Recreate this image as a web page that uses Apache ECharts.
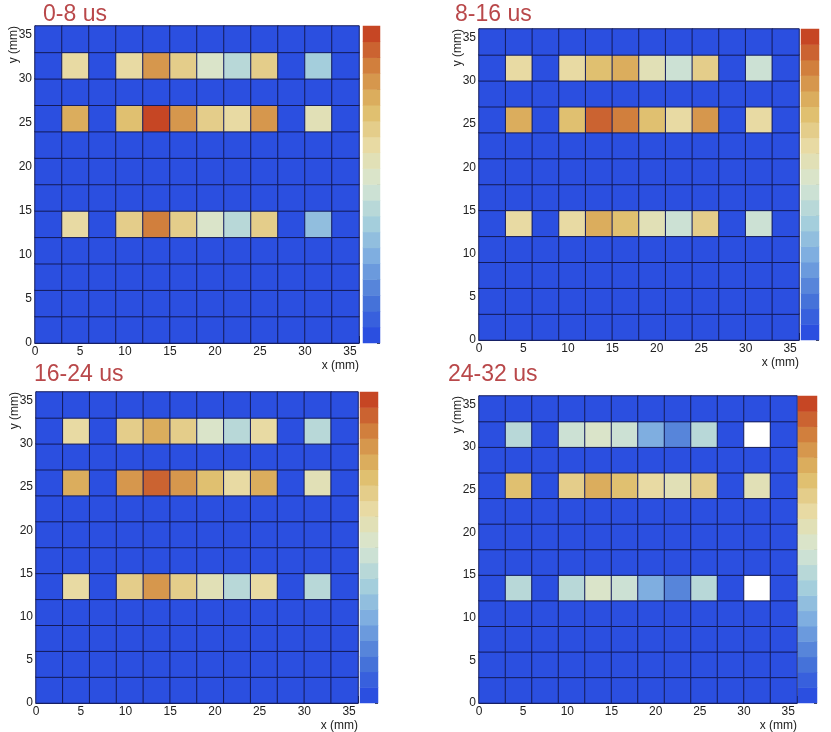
<!DOCTYPE html>
<html><head><meta charset="utf-8">
<script src="https://cdn.jsdelivr.net/npm/echarts@6/dist/echarts.min.js"></script>
<style>html,body{margin:0;padding:0;background:#fff}#c{width:831px;height:732px}</style>
</head><body><div id="c"></div>
<script>
// ---- data ----
const binCenters = ['1.5','4.5','7.5','10.5','13.5','16.5','19.5','22.5','25.5','28.5','31.5','34.5'];
const panelTitles = ['0-8 us', '8-16 us', '16-24 us', '24-32 us'];
const litRows = ['13.5', '25.5', '31.5'];          // y bin centres (mm) of lit rows
// colour level per x bin (0..20 scale, -1 = below scale -> white)
const p1Row13 = [0, 12.5, 0, 13.0, 17.0, 13.5, 10.5, 8.5, 13.5, 0, 6.5, 0];
const p1Row25 = [0, 15.5, 0, 14.5, 19.5, 16.5, 13.5, 12.5, 16.5, 0, 11.5, 0];
const p1Row31 = [0, 12.5, 0, 12.5, 16.5, 13.5, 10.5, 8.5, 13.5, 0, 7.5, 0];
const p2Row13 = [0, 12.5, 0, 12.5, 15.0, 14.0, 11.0, 9.0, 13.5, 0, 9.0, 0];
const p2Row25 = [0, 15.5, 0, 14.5, 18.5, 17.5, 14.0, 12.5, 16.0, 0, 12.5, 0];
const p2Row31 = [0, 12.5, 0, 12.0, 14.5, 15.0, 11.5, 9.5, 13.0, 0, 9.0, 0];
const p3Row13 = [0, 12.5, 0, 13.0, 16.0, 13.5, 11.0, 8.5, 12.5, 0, 8.0, 0];
const p3Row25 = [0, 15.5, 0, 16.0, 18.5, 16.0, 14.0, 12.5, 15.0, 0, 11.5, 0];
const p3Row31 = [0, 12.5, 0, 13.0, 15.0, 13.5, 10.5, 8.5, 12.5, 0, 8.0, 0];
const p4Row13 = [0, 8.0, 0, 8.0, 10.5, 9.0, 5.5, 3.5, 8.0, 0, -1, 0];
const p4Row25 = [0, 14.0, 0, 13.0, 15.0, 14.0, 12.5, 11.5, 13.5, 0, 11.0, 0];
const p4Row31 = [0, 8.0, 0, 9.0, 10.5, 9.0, 5.0, 3.0, 8.0, 0, -1, 0];
const panelRows = [
  [p1Row13, p1Row25, p1Row31],
  [p2Row13, p2Row25, p2Row31],
  [p3Row13, p3Row25, p3Row31],
  [p4Row13, p4Row25, p4Row31]
];
const nLevels = 20;

// ---- palette (ROOT light-temperature like) ----
const anchors = ['#2b4fe0','#4a78d8','#7aaae0','#a6d0dc','#d6e6d2','#e8dca6','#dfbd6a','#d38a42','#c64624'];
function hex(c){return [1,3,5].map(i=>parseInt(c.substr(i,2),16));}
function bandColor(t){
  const p = t*(anchors.length-1), i = Math.min(Math.floor(p), anchors.length-2), f = p-i;
  const a = hex(anchors[i]), b = hex(anchors[i+1]);
  return 'rgb(' + a.map((v,k)=>Math.round(v+(b[k]-v)*f)).join(',') + ')';
}
const pieces = [];
for (let i = 0; i < nLevels; i++) {
  pieces.push(i === nLevels-1 ? {gte:i, lte:i+1, color:bandColor(i/(nLevels-1))}
                              : {gte:i, lt:i+1, color:bandColor(i/(nLevels-1))});
}

// ---- layout ----
const layout = [
  {l:35,  t:26,  w:324, h:317, bl:363, bw:17, tl:43,  tt:3},
  {l:479, t:29,  w:320, h:311, bl:801, bw:18, tl:455, tt:3},
  {l:36,  t:392, w:322, h:311, bl:360, bw:18, tl:34,  tt:363},
  {l:479, t:396, w:318, h:307, bl:798, bw:19, tl:448, tt:363}
];

const grids = [], xAxes = [], yAxes = [], series = [], titles = [];
const axisCol = '#222';
layout.forEach((L, p) => {
  const gMain = grids.length;
  grids.push({left:L.l, top:L.t, width:L.w, height:L.h, outerBoundsMode:'none', containLabel:false});
  grids.push({left:L.bl, top:L.t, width:L.bw, height:L.h, outerBoundsMode:'none', containLabel:false});
  const gBar = gMain + 1;
  titles.push({text: panelTitles[p], left:L.tl, top:L.tt, padding:0,
    textStyle:{color:'#b9484a', fontSize:23, fontWeight:'normal', fontFamily:'Liberation Sans'}});

  const xCat = xAxes.length;
  xAxes.push({type:'category', gridIndex:gMain, data:binCenters, show:false, position:'top'});
  xAxes.push({type:'value', gridIndex:gMain, min:0, max:36, interval:5, position:'bottom',
    name:'x (mm)', nameLocation:'end', nameGap:0, nameMoveOverlap:false,
    nameTextStyle:{align:'right', verticalAlign:'top', padding:[17,0,0,0], fontSize:12, color:axisCol, fontFamily:'Liberation Sans'},
    axisLine:{show:true, lineStyle:{color:'#1a2260', width:1}},
    axisTick:{show:true, inside:true, length:7, lineStyle:{color:axisCol}},
    minorTick:{show:true, splitNumber:5, length:3, lineStyle:{color:axisCol}},
    axisLabel:{fontSize:12, color:axisCol, margin:3, showMaxLabel:false, fontFamily:'Liberation Sans'},
    splitLine:{show:false}});
  const xBar = xAxes.length;
  xAxes.push({type:'category', gridIndex:gBar, data:['z'], show:false});

  const yCat = yAxes.length;
  yAxes.push({type:'category', gridIndex:gMain, data:binCenters, show:false, position:'right'});
  yAxes.push({type:'value', gridIndex:gMain, min:0, max:36, interval:5, position:'left',
    name:'y (mm)', nameLocation:'end', nameGap:0, nameRotate:90, nameMoveOverlap:false,
    nameTextStyle:{align:'right', verticalAlign:'bottom', padding:[0,0,15,0], fontSize:12, color:axisCol, fontFamily:'Liberation Sans'},
    axisLine:{show:true, lineStyle:{color:'#1a2260', width:1}},
    axisTick:{show:true, inside:true, length:7, lineStyle:{color:axisCol}},
    minorTick:{show:true, splitNumber:5, length:3, lineStyle:{color:axisCol}},
    axisLabel:{fontSize:12, color:axisCol, margin:3, showMaxLabel:false, fontFamily:'Liberation Sans'},
    splitLine:{show:false}});
  const yBar = yAxes.length;
  yAxes.push({type:'category', gridIndex:gBar, data:pieces.map((_,i)=>String(i)), show:false, position:'left'});
  yAxes.push({type:'value', gridIndex:gBar, min:0, max:nLevels, interval:2, position:'right',
    axisLine:{show:false}, axisLabel:{show:false}, splitLine:{show:false},
    axisTick:{show:true, inside:true, length:3, lineStyle:{color:'#444'}}});

  const data = [];
  for (let yi = 0; yi < binCenters.length; yi++) {
    const r = litRows.indexOf(binCenters[yi]);
    for (let xi = 0; xi < binCenters.length; xi++) {
      data.push([xi, yi, r >= 0 ? panelRows[p][r][xi] : 0]);
    }
  }
  series.push({type:'heatmap', xAxisIndex:xCat, yAxisIndex:yCat, data:data,
    itemStyle:{borderColor:'#141c5c', borderWidth:1}, emphasis:{disabled:true}, progressive:0});
  series.push({type:'heatmap', xAxisIndex:xBar, yAxisIndex:yBar,
    data:pieces.map((_,i)=>[0, i, i+0.5]), emphasis:{disabled:true}, progressive:0});
});

const chart = echarts.init(document.getElementById('c'), null, {renderer:'canvas'});
chart.setOption({
  animation:false,
  backgroundColor:'#ffffff',
  title:titles,
  grid:grids, xAxis:xAxes, yAxis:yAxes,
  visualMap:{type:'piecewise', show:false, dimension:2, pieces:pieces,
    outOfRange:{color:'#ffffff'}, seriesIndex:series.map((_,i)=>i)},
  series:series
});
</script></body></html>
